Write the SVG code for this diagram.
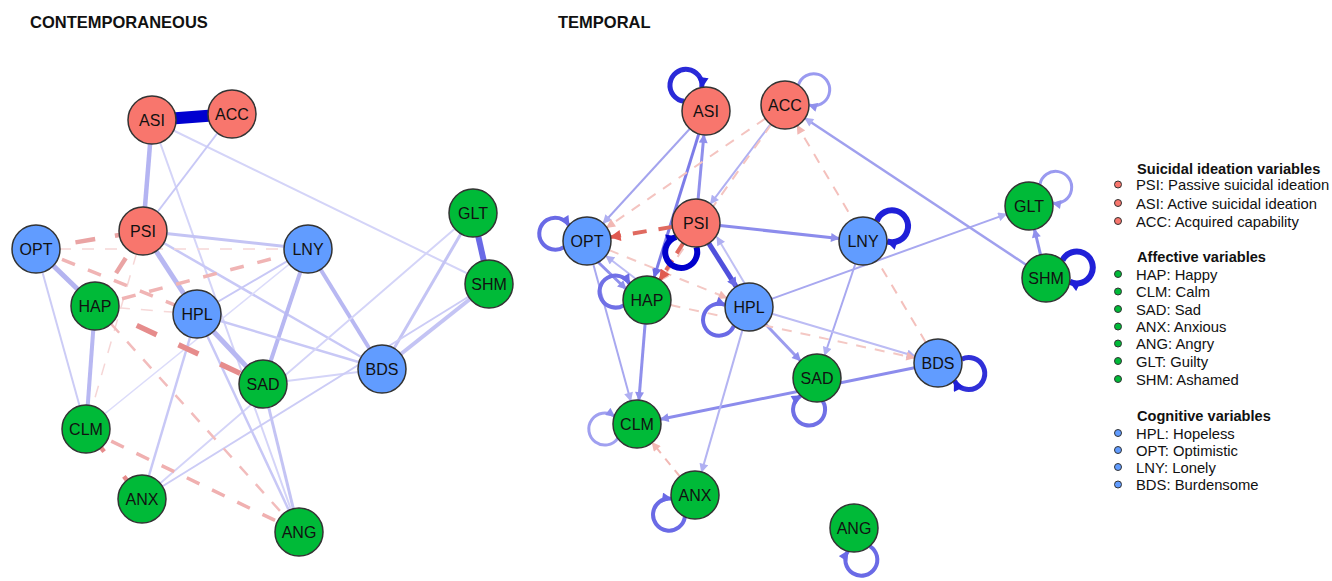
<svg xmlns="http://www.w3.org/2000/svg" width="1332" height="581" viewBox="0 0 1332 581">
<style>
.title{font-family:"Liberation Sans",Arial,sans-serif;font-weight:bold;font-size:16.5px;fill:#111}
.nl{font-family:"Liberation Sans",Arial,sans-serif;font-size:16px;fill:#111;text-anchor:middle}
.lg{font-family:"Liberation Sans",Arial,sans-serif;font-size:14.8px;fill:#111}
.lh{font-family:"Liberation Sans",Arial,sans-serif;font-size:14.6px;font-weight:bold;fill:#111}
.r{fill:#F8766D;stroke:#333;stroke-width:1.5}
.g{fill:#00BA38;stroke:#333;stroke-width:1.5}
.b{fill:#619CFF;stroke:#333;stroke-width:1.5}
.ld{stroke-width:1;stroke:#333}
.lp{fill:none}
.dsh{stroke-dasharray:12 11}
</style>
<defs>
<marker id="mA" viewBox="0 0 10 10" refX="9" refY="5" markerWidth="12" markerHeight="11" markerUnits="userSpaceOnUse" orient="auto"><path d="M0,0 L10,5 L0,10 z" style="fill:#2020d8;stroke:none"/></marker>
<marker id="mB" viewBox="0 0 10 10" refX="9" refY="5" markerWidth="11" markerHeight="10" markerUnits="userSpaceOnUse" orient="auto"><path d="M0,0 L10,5 L0,10 z" style="fill:#6a6ae6;stroke:none"/></marker>
<marker id="mC" viewBox="0 0 10 10" refX="9" refY="5" markerWidth="10" markerHeight="9" markerUnits="userSpaceOnUse" orient="auto"><path d="M0,0 L10,5 L0,10 z" style="fill:#9090ec;stroke:none"/></marker>
<marker id="mD" viewBox="0 0 10 10" refX="9" refY="5" markerWidth="10" markerHeight="9" markerUnits="userSpaceOnUse" orient="auto"><path d="M0,0 L10,5 L0,10 z" style="fill:#b0b0f2;stroke:none"/></marker>
<marker id="mK" viewBox="0 0 10 10" refX="9" refY="5" markerWidth="12" markerHeight="11" markerUnits="userSpaceOnUse" orient="auto"><path d="M0,0 L10,5 L0,10 z" style="fill:#0000cc;stroke:none"/></marker>
<marker id="mR" viewBox="0 0 10 10" refX="9" refY="5" markerWidth="12" markerHeight="11" markerUnits="userSpaceOnUse" orient="auto"><path d="M0,0 L10,5 L0,10 z" style="fill:#e05a50;stroke:none"/></marker>
<marker id="mP" viewBox="0 0 10 10" refX="9" refY="5" markerWidth="10" markerHeight="9" markerUnits="userSpaceOnUse" orient="auto"><path d="M0,0 L10,5 L0,10 z" style="fill:#f2b8b4;stroke:none"/></marker>
</defs>
<rect width="1332" height="581" fill="#fff"/>

<text class="title" x="30" y="28">CONTEMPORANEOUS</text>
<text class="title" x="558" y="28">TEMPORAL</text>

<!-- LEFT connectors -->
<g id="connectors-contemporaneous">
<line x1="152" y1="120" x2="489" y2="284" stroke="#d4d4f8" stroke-width="2"/>
<line x1="152" y1="120" x2="299" y2="532" stroke="#d4d4f8" stroke-width="2"/>
<line x1="232" y1="114" x2="143" y2="231" stroke="#c8c8f6" stroke-width="2"/>
<line x1="152" y1="120" x2="143" y2="231" stroke="#b4b4f2" stroke-width="4.5"/>
<line x1="143" y1="231" x2="308" y2="249" stroke="#c4c4f4" stroke-width="3"/>
<line x1="143" y1="231" x2="382" y2="369" stroke="#c8c8f6" stroke-width="2.5"/>
<line x1="143" y1="231" x2="197" y2="314" stroke="#b8b8f2" stroke-width="5"/>
<line x1="197" y1="314" x2="263" y2="384" stroke="#b8b8f2" stroke-width="5"/>
<line x1="36" y1="249" x2="95" y2="306" stroke="#b4b4f0" stroke-width="5"/>
<line x1="36" y1="249" x2="86" y2="429" stroke="#ccccf6" stroke-width="2"/>
<line x1="95" y1="306" x2="86" y2="429" stroke="#b8b8f2" stroke-width="4"/>
<line x1="308" y1="249" x2="197" y2="314" stroke="#c8c8f6" stroke-width="2"/>
<line x1="308" y1="249" x2="86" y2="429" stroke="#dcdcfa" stroke-width="1.5"/>
<line x1="308" y1="249" x2="263" y2="384" stroke="#b8b8f2" stroke-width="4"/>
<line x1="308" y1="249" x2="382" y2="369" stroke="#b8b8f2" stroke-width="4"/>
<line x1="197" y1="314" x2="382" y2="369" stroke="#c8c8f6" stroke-width="2.5"/>
<line x1="263" y1="384" x2="382" y2="369" stroke="#d4d4f8" stroke-width="2"/>
<line x1="382" y1="369" x2="473" y2="213" stroke="#c4c4f4" stroke-width="3"/>
<line x1="382" y1="369" x2="489" y2="284" stroke="#c4c4f4" stroke-width="4"/>
<line x1="142" y1="499" x2="489" y2="284" stroke="#ccccf6" stroke-width="2"/>
<line x1="142" y1="499" x2="473" y2="213" stroke="#d4d4f8" stroke-width="2"/>
<line x1="197" y1="314" x2="142" y2="499" stroke="#c8c8f6" stroke-width="2.5"/>
<line x1="197" y1="314" x2="299" y2="532" stroke="#c8c8f6" stroke-width="2.5"/>
<line x1="263" y1="384" x2="299" y2="532" stroke="#c4c4f4" stroke-width="3"/>
<line x1="473" y1="213" x2="489" y2="284" stroke="#6a6ae6" stroke-width="6"/>
<line x1="152" y1="120" x2="232" y2="114" stroke="#0000d0" stroke-width="12"/>
<!-- negative (dashed) -->
<line class="dsh" x1="36" y1="249" x2="308" y2="249" stroke="#f6d6d6" stroke-width="1.5"/>
<line class="dsh" x1="143" y1="231" x2="86" y2="429" stroke="#f6d6d6" stroke-width="1.5"/>
<line class="dsh" x1="95" y1="306" x2="197" y2="314" stroke="#f6d8d8" stroke-width="1.5"/>
<line x1="36" y1="249" x2="143" y2="231" stroke="#eaa4a4" stroke-width="4.5" style="stroke-dasharray:20 20"/>
<line x1="143" y1="231" x2="95" y2="306" stroke="#eaa4a4" stroke-width="4.5" style="stroke-dasharray:18 14"/>
<line x1="36" y1="249" x2="197" y2="314" stroke="#f0b4b4" stroke-width="3.5" style="stroke-dasharray:14 14"/>
<line x1="95" y1="306" x2="308" y2="249" stroke="#f0b4b4" stroke-width="3.5" style="stroke-dasharray:14 14"/>
<line x1="95" y1="306" x2="263" y2="384" stroke="#e68c8c" stroke-width="5.5" style="stroke-dasharray:22 24"/>
<line x1="86" y1="429" x2="299" y2="532" stroke="#f0b0b0" stroke-width="3.5" style="stroke-dasharray:14 14"/>
<line x1="95" y1="306" x2="299" y2="532" stroke="#f2bcbc" stroke-width="2.5" style="stroke-dasharray:12 12"/>
<line x1="101" y1="447.7" x2="127" y2="480.3" stroke="#e68c8c" stroke-width="4.5" style="stroke-dasharray:5 31.7 5"/>
</g>

<!-- RIGHT connectors -->
<g id="connectors-temporal">
<!-- blue directed -->
<line x1="689.8" y1="128.7" x2="603.2" y2="223.3" stroke="#a4a4ee" stroke-width="2" marker-end="url(#mD)"/>
<line x1="698.1" y1="199.1" x2="703.9" y2="134.9" stroke="#9090ec" stroke-width="3" marker-end="url(#mC)"/>
<line x1="698.8" y1="133.9" x2="654.2" y2="277.1" stroke="#7c7ce8" stroke-width="3" marker-end="url(#mB)"/>
<line x1="770.6" y1="124.2" x2="710.5" y2="203.8" stroke="#b0b0f2" stroke-width="2" marker-end="url(#mD)"/>
<line x1="719.9" y1="225.6" x2="839.1" y2="238.4" stroke="#8c8cec" stroke-width="3" marker-end="url(#mC)"/>
<line x1="708.8" y1="243.3" x2="736.2" y2="286.7" stroke="#5050dc" stroke-width="5" marker-end="url(#mB)"/>
<line x1="745" y1="284" x2="717" y2="237" stroke="#c0c0f4" stroke-width="2" marker-end="url(#mD)"/>
<line x1="598" y1="262" x2="626" y2="289" stroke="#9090ec" stroke-width="3" marker-end="url(#mC)"/>
<line x1="636" y1="279" x2="606" y2="256" stroke="#bcbcf4" stroke-width="2" marker-end="url(#mD)"/>
<line x1="593.3" y1="264.2" x2="630.7" y2="400.8" stroke="#a8a8f0" stroke-width="2" marker-end="url(#mD)"/>
<line x1="645.1" y1="323.9" x2="638.9" y2="400.1" stroke="#9090ec" stroke-width="3" marker-end="url(#mC)"/>
<line x1="914.5" y1="367.8" x2="660.5" y2="419.2" stroke="#8c8cec" stroke-width="3" marker-end="url(#mC)"/>
<line x1="765.6" y1="324.3" x2="800.4" y2="360.7" stroke="#9c9cee" stroke-width="3" marker-end="url(#mC)"/>
<line x1="855.4" y1="263.8" x2="824.6" y2="355.2" stroke="#a8a8f0" stroke-width="2" marker-end="url(#mD)"/>
<line x1="771.6" y1="298.9" x2="1006.4" y2="214.1" stroke="#a8a8f0" stroke-width="2" marker-end="url(#mD)"/>
<line x1="772" y1="313.8" x2="915" y2="356.2" stroke="#bcbcf4" stroke-width="2" marker-end="url(#mD)"/>
<line x1="742.4" y1="330.1" x2="701.6" y2="471.9" stroke="#b4b4f2" stroke-width="2" marker-end="url(#mD)"/>
<line x1="1026" y1="264.7" x2="805" y2="118.3" stroke="#a0a0ee" stroke-width="2.5" marker-end="url(#mD)"/>
<line x1="1040.5" y1="254.6" x2="1034.5" y2="229.4" stroke="#9090ec" stroke-width="3" marker-end="url(#mC)"/>
<!-- red dashed directed -->
<line x1="765.2" y1="118.6" x2="606.8" y2="227.4" stroke="#f4c4c0" stroke-width="2" style="stroke-dasharray:10 9" marker-end="url(#mP)"/>
<line x1="771.1" y1="124.6" x2="660.9" y2="280.4" stroke="#f4c4c0" stroke-width="2" style="stroke-dasharray:10 9" marker-end="url(#mP)"/>
<line x1="925.8" y1="342.4" x2="797.2" y2="125.6" stroke="#f4c0bc" stroke-width="2" style="stroke-dasharray:10 9" marker-end="url(#mP)"/>
<line x1="609.2" y1="250.1" x2="726.8" y2="297.9" stroke="#f4c8c4" stroke-width="2" style="stroke-dasharray:10 9" marker-end="url(#mP)"/>
<line x1="670.5" y1="305.1" x2="914.5" y2="357.9" stroke="#f4c8c4" stroke-width="2" style="stroke-dasharray:10 9" marker-end="url(#mP)"/>
<line x1="679.8" y1="476.4" x2="652.2" y2="442.6" stroke="#f2b8b4" stroke-width="2" style="stroke-dasharray:8 7" marker-end="url(#mP)"/>
<line x1="672.3" y1="226.9" x2="610.7" y2="237.1" stroke="#e06a60" stroke-width="4" style="stroke-dasharray:14 12" marker-end="url(#mR)"/>
<line x1="683.1" y1="243.2" x2="659.9" y2="279.8" stroke="#e06a60" stroke-width="4" style="stroke-dasharray:12 8" marker-end="url(#mR)"/>
<!-- self loops -->
<path class="lp" d="M684.1,101.2 A16,16 0 1 1 701.8,87.4" stroke="#2a2ad8" stroke-width="5" marker-end="url(#mA)"/>
<path class="lp" d="M798.4,85.1 A16,16 0 1 1 809,105" stroke="#9a9af0" stroke-width="3" marker-end="url(#mC)"/>
<path class="lp" d="M563.8,247.2 A16,16 0 1 1 568.9,225.3" stroke="#6a6ae6" stroke-width="4" marker-end="url(#mB)"/>
<path class="lp" d="M696.4,247 A16,16 0 1 1 676.3,236.8" stroke="#0000cc" stroke-width="6" marker-end="url(#mK)"/>
<path class="lp" d="M623.6,305.4 A16,16 0 1 1 629.4,283.6" stroke="#7070e6" stroke-width="4" marker-end="url(#mB)"/>
<path class="lp" d="M733.9,325.7 A16,16 0 1 1 725.1,304.9" stroke="#6a6ae6" stroke-width="4" marker-end="url(#mB)"/>
<path class="lp" d="M876.8,221.3 A16,16 0 1 1 887,241.4" stroke="#2020d8" stroke-width="6" marker-end="url(#mA)"/>
<path class="lp" d="M1039.9,184.6 A16,16 0 1 1 1052.8,203.1" stroke="#9a9af0" stroke-width="3" marker-end="url(#mC)"/>
<path class="lp" d="M1062.4,260.4 A16,16 0 1 1 1069.7,281.8" stroke="#2020d8" stroke-width="6" marker-end="url(#mA)"/>
<path class="lp" d="M961.7,359.2 A16,16 0 1 1 954.4,380.6" stroke="#3030d8" stroke-width="5" marker-end="url(#mA)"/>
<path class="lp" d="M822.8,401.3 A16,16 0 1 1 800.9,395.8" stroke="#7070e6" stroke-width="4" marker-end="url(#mB)"/>
<path class="lp" d="M617.8,438.4 A16,16 0 1 1 614.3,416.2" stroke="#a0a0f0" stroke-width="3" marker-end="url(#mC)"/>
<path class="lp" d="M684.9,516.8 A16,16 0 1 1 671.3,498.8" stroke="#6a6ae6" stroke-width="4" marker-end="url(#mB)"/>
<path class="lp" d="M869.7,546.1 A16,16 0 1 1 847.8,551.2" stroke="#6a6ae6" stroke-width="4" marker-end="url(#mB)"/>
</g>

<!-- LEFT nodes -->
<g id="c-ASI"><circle class="r" cx="152" cy="120" r="24"/><text class="nl" x="152" y="125.5">ASI</text></g>
<g id="c-ACC"><circle class="r" cx="232" cy="114" r="24"/><text class="nl" x="232" y="119.5">ACC</text></g>
<g id="c-PSI"><circle class="r" cx="143" cy="231" r="24"/><text class="nl" x="143" y="236.5">PSI</text></g>
<g id="c-OPT"><circle class="b" cx="36" cy="249" r="24"/><text class="nl" x="36" y="254.5">OPT</text></g>
<g id="c-LNY"><circle class="b" cx="308" cy="249" r="24"/><text class="nl" x="308" y="254.5">LNY</text></g>
<g id="c-HAP"><circle class="g" cx="95" cy="306" r="24"/><text class="nl" x="95" y="311.5">HAP</text></g>
<g id="c-HPL"><circle class="b" cx="197" cy="314" r="24"/><text class="nl" x="197" y="319.5">HPL</text></g>
<g id="c-SAD"><circle class="g" cx="263" cy="384" r="24"/><text class="nl" x="263" y="389.5">SAD</text></g>
<g id="c-BDS"><circle class="b" cx="382" cy="369" r="24"/><text class="nl" x="382" y="374.5">BDS</text></g>
<g id="c-CLM"><circle class="g" cx="86" cy="429" r="24"/><text class="nl" x="86" y="434.5">CLM</text></g>
<g id="c-ANX"><circle class="g" cx="142" cy="499" r="24"/><text class="nl" x="142" y="504.5">ANX</text></g>
<g id="c-ANG"><circle class="g" cx="299" cy="532" r="24"/><text class="nl" x="299" y="537.5">ANG</text></g>
<g id="c-GLT"><circle class="g" cx="473" cy="213" r="24"/><text class="nl" x="473" y="218.5">GLT</text></g>
<g id="c-SHM"><circle class="g" cx="489" cy="284" r="24"/><text class="nl" x="489" y="289.5">SHM</text></g>

<!-- RIGHT nodes -->
<g id="t-ASI"><circle class="r" cx="706" cy="111" r="24"/><text class="nl" x="706" y="116.5">ASI</text></g>
<g id="t-ACC"><circle class="r" cx="785" cy="105" r="24"/><text class="nl" x="785" y="110.5">ACC</text></g>
<g id="t-PSI"><circle class="r" cx="696" cy="223" r="24"/><text class="nl" x="696" y="228.5">PSI</text></g>
<g id="t-OPT"><circle class="b" cx="587" cy="241" r="24"/><text class="nl" x="587" y="246.5">OPT</text></g>
<g id="t-HAP"><circle class="g" cx="647" cy="300" r="24"/><text class="nl" x="647" y="305.5">HAP</text></g>
<g id="t-HPL"><circle class="b" cx="749" cy="307" r="24"/><text class="nl" x="749" y="312.5">HPL</text></g>
<g id="t-SAD"><circle class="g" cx="817" cy="378" r="24"/><text class="nl" x="817" y="383.5">SAD</text></g>
<g id="t-CLM"><circle class="g" cx="637" cy="424" r="24"/><text class="nl" x="637" y="429.5">CLM</text></g>
<g id="t-ANX"><circle class="g" cx="695" cy="495" r="24"/><text class="nl" x="695" y="500.5">ANX</text></g>
<g id="t-ANG"><circle class="g" cx="854" cy="528" r="24"/><text class="nl" x="854" y="533.5">ANG</text></g>
<g id="t-LNY"><circle class="b" cx="863" cy="241" r="24"/><text class="nl" x="863" y="246.5">LNY</text></g>
<g id="t-GLT"><circle class="g" cx="1029" cy="206" r="24"/><text class="nl" x="1029" y="211.5">GLT</text></g>
<g id="t-SHM"><circle class="g" cx="1046" cy="278" r="24"/><text class="nl" x="1046" y="283.5">SHM</text></g>
<g id="t-BDS"><circle class="b" cx="938" cy="363" r="24"/><text class="nl" x="938" y="368.5">BDS</text></g>

<!-- Legend -->
<g id="legend">
<text class="lh" x="1137" y="174">Suicidal ideation variables</text>
<circle class="r ld" cx="1118" cy="184.5" r="3.5"/><text class="lg" x="1136" y="190">PSI: Passive suicidal ideation</text>
<circle class="r ld" cx="1118" cy="203" r="3.5"/><text class="lg" x="1136" y="208.5">ASI: Active suicidal ideation</text>
<circle class="r ld" cx="1118" cy="221" r="3.5"/><text class="lg" x="1136" y="226.5">ACC: Acquired capability</text>
<text class="lh" x="1137" y="262">Affective variables</text>
<circle class="g ld" cx="1118" cy="274" r="3.5"/><text class="lg" x="1136" y="279.5">HAP: Happy</text>
<circle class="g ld" cx="1118" cy="291.5" r="3.5"/><text class="lg" x="1136" y="297">CLM: Calm</text>
<circle class="g ld" cx="1118" cy="309" r="3.5"/><text class="lg" x="1136" y="314.5">SAD: Sad</text>
<circle class="g ld" cx="1118" cy="326.5" r="3.5"/><text class="lg" x="1136" y="332">ANX: Anxious</text>
<circle class="g ld" cx="1118" cy="343.5" r="3.5"/><text class="lg" x="1136" y="349">ANG: Angry</text>
<circle class="g ld" cx="1118" cy="361" r="3.5"/><text class="lg" x="1136" y="366.5">GLT: Guilty</text>
<circle class="g ld" cx="1118" cy="379" r="3.5"/><text class="lg" x="1136" y="384.5">SHM: Ashamed</text>
<text class="lh" x="1137" y="421">Cognitive variables</text>
<circle class="b ld" cx="1118" cy="433" r="3.5"/><text class="lg" x="1136" y="438.5">HPL: Hopeless</text>
<circle class="b ld" cx="1118" cy="450" r="3.5"/><text class="lg" x="1136" y="455.5">OPT: Optimistic</text>
<circle class="b ld" cx="1118" cy="467" r="3.5"/><text class="lg" x="1136" y="472.5">LNY: Lonely</text>
<circle class="b ld" cx="1118" cy="484.5" r="3.5"/><text class="lg" x="1136" y="490">BDS: Burdensome</text>
</g>
</svg>
